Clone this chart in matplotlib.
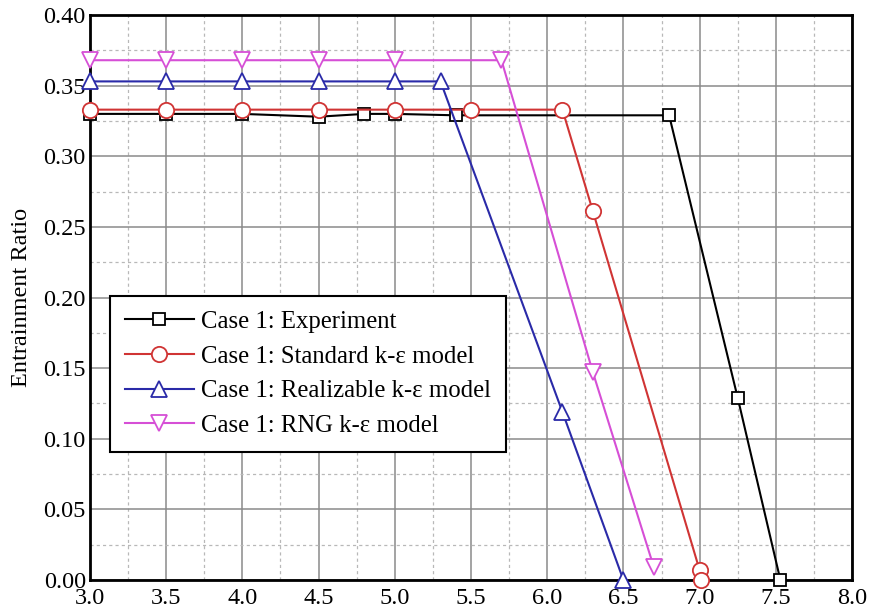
import matplotlib
matplotlib.use("Agg")
import matplotlib.pyplot as plt
from matplotlib.ticker import MultipleLocator, FormatStrFormatter

plt.rcParams['font.family'] = ['Liberation Serif', 'DejaVu Serif']

exp_x = [3.0, 3.5, 4.0, 4.5, 4.8, 5.0, 5.4, 6.8, 7.25, 7.53]
exp_y = [0.330, 0.330, 0.330, 0.328, 0.330, 0.330, 0.329, 0.329, 0.129, 0.0]

std_x = [3.0, 3.5, 4.0, 4.5, 5.0, 5.5, 6.1, 6.3, 7.0, 7.01]
std_y = [0.333, 0.333, 0.333, 0.333, 0.333, 0.333, 0.333, 0.261, 0.007, 0.0]

rea_x = [3.0, 3.5, 4.0, 4.5, 5.0, 5.3, 6.1, 6.5]
rea_y = [0.353, 0.353, 0.353, 0.353, 0.353, 0.353, 0.119, 0.0]

rng_x = [3.0, 3.5, 4.0, 4.5, 5.0, 5.7, 6.3, 6.7]
rng_y = [0.368, 0.368, 0.368, 0.368, 0.368, 0.368, 0.147, 0.009]

labels = ["Case 1: Experiment", "Case 1: Standard k-ε model",
          "Case 1: Realizable k-ε model", "Case 1: RNG k-ε model"]

fig = plt.figure(figsize=(8.71, 6.13), dpi=100)
ax = fig.add_axes([0.1033, 0.0538, 0.8749, 0.9217])

series = [
    (exp_x, exp_y, 'black', 's', 9),
    (std_x, std_y, '#d03434', 'o', 11),
    (rea_x, rea_y, '#2a2aa8', '^', 11),
    (rng_x, rng_y, '#d64fd6', 'v', 11),
]
for (x, y, c, m, ms), lab in zip(series, labels):
    ax.plot(x, y, color=c, marker=m, ms=ms, mfc='white', mec=c, mew=1.3,
            lw=1.5, label=lab, zorder=3, clip_on=False)

ax.set_xlim(3.0, 8.0)
ax.set_ylim(0.0, 0.40)
ax.xaxis.set_major_locator(MultipleLocator(0.5))
ax.xaxis.set_minor_locator(MultipleLocator(0.25))
ax.yaxis.set_major_locator(MultipleLocator(0.05))
ax.yaxis.set_minor_locator(MultipleLocator(0.025))
ax.xaxis.set_major_formatter(FormatStrFormatter('%.1f'))
ax.yaxis.set_major_formatter(FormatStrFormatter('%.2f'))
ax.grid(which='major', color='#8a8a8a', lw=1.1, ls='-', zorder=0)
ax.grid(which='minor', color='#b8b8b8', lw=0.9, ls=(0, (2.5, 2.5)), zorder=0)
ax.set_axisbelow(True)
ax.tick_params(which='both', length=0, labelsize=17.5, pad=3)
ax.tick_params(axis='x', pad=6)
for s in ax.spines.values():
    s.set_linewidth(2.0)
    s.set_color('black')
ax.set_ylabel("Entrainment Ratio", fontsize=17.5, labelpad=8)

leg = ax.legend(loc='upper left', bbox_to_anchor=(0.026, 0.503),
                borderaxespad=0.0,
                fontsize=17.8, frameon=True, fancybox=False, framealpha=1,
                edgecolor='black', handlelength=2.8, borderpad=0.6,
                labelspacing=0.5, handletextpad=0.3)
leg.get_frame().set_linewidth(1.5)

fig.savefig("out.png", dpi=100)
